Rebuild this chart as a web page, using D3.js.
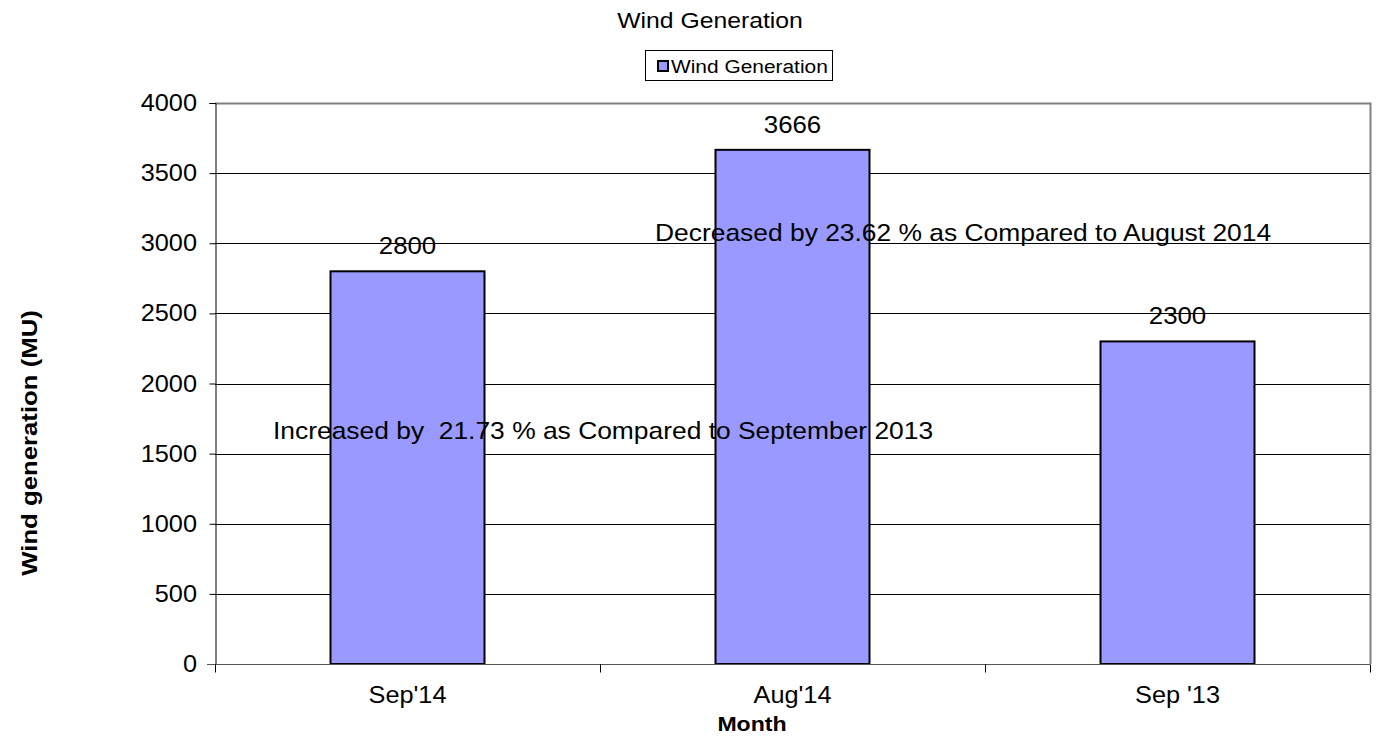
<!DOCTYPE html>
<html>
<head>
<meta charset="utf-8">
<script src="https://cdnjs.cloudflare.com/ajax/libs/d3/7.8.5/d3.min.js"></script>
<style>
  body { margin: 0; background: #fff; }
  text { font-family: "Liberation Sans", Arial, sans-serif; fill: #000; }
</style>
</head>
<body>
<svg width="1377" height="740"></svg>
<script>
// data
var months = ["Sep'14", "Aug'14", "Sep '13"];
var generation = [2800, 3666, 2300];
var yTicks = [0, 500, 1000, 1500, 2000, 2500, 3000, 3500, 4000];
var noteTexts = [
  "Decreased by 23.62 % as Compared to August 2014",
  "Increased by  21.73 % as Compared to September 2013"
];
var noteValues = [3020, 1620];

var svg = d3.select("svg"),
    plotL = 215, plotR = 1370, plotT = 103, plotB = 664;

var x = d3.scaleBand().domain(months).range([plotL, plotR]);
var y = d3.scaleLinear().domain([0, 4000]).range([plotB, plotT]);
var barW = x.bandwidth() * 0.4;

// text helper: slightly wide lettering like the original
function label(g, tx, ty, str, size, anchor, extra, sx) {
  return g.append("text")
    .attr("transform", "translate(" + tx + "," + ty + ")" + (extra || "") + " scale(" + (sx || 1.1) + ",1)")
    .attr("text-anchor", anchor || "start")
    .style("font-size", size + "px")
    .style("white-space", "pre")
    .text(str);
}

// title
label(svg, 710, 28, "Wind Generation", 22.5, "middle");

// legend
svg.append("rect").attr("x", 645.5).attr("y", 50.5).attr("width", 187).attr("height", 30)
  .attr("fill", "#fff").attr("stroke", "#000").attr("stroke-width", 1);
svg.append("rect").attr("x", 658).attr("y", 61).attr("width", 10).attr("height", 10)
  .attr("fill", "#9999ff").attr("stroke", "#000").attr("stroke-width", 2);
label(svg, 671, 73, "Wind Generation", 19, "start");

// gridlines
svg.append("g").selectAll("line").data(yTicks.slice(1, -1)).enter().append("line")
  .attr("x1", plotL).attr("x2", plotR)
  .attr("y1", function(d) { return Math.round(y(d)) + 0.5; })
  .attr("y2", function(d) { return Math.round(y(d)) + 0.5; })
  .attr("stroke", "#000").attr("stroke-width", 1);

// plot border top/right
svg.append("path")
  .attr("d", "M" + plotL + "," + (plotT + 0.5) + "H" + (plotR + 0.5) + "V" + plotB)
  .attr("fill", "none").attr("stroke", "#808080").attr("stroke-width", 2);

// bars
svg.append("g").selectAll("rect").data(generation).enter().append("rect")
  .attr("x", function(d, i) { return x(months[i]) + (x.bandwidth() - barW) / 2; })
  .attr("y", function(d) { return y(d); })
  .attr("width", barW)
  .attr("height", function(d) { return y(0) - y(d); })
  .attr("fill", "#9999ff").attr("stroke", "#000").attr("stroke-width", 2);

// value labels
generation.forEach(function(d, i) {
  label(svg, x(months[i]) + x.bandwidth() / 2, y(d) - 17, String(d), 23.5, "middle");
});

// y axis
var yAxis = d3.axisLeft(y).tickValues(yTicks).tickSize(6).tickFormat("");
var ya = svg.append("g").attr("transform", "translate(" + (plotL + 0.5) + ",0)").call(yAxis);
ya.select(".domain").attr("stroke", "#000");
ya.selectAll(".tick line").attr("stroke", "#000");
yTicks.forEach(function(t) {
  label(svg, 197, y(t) + 8, String(t), 23, "end");
});

// x axis
var xa = svg.append("g").attr("transform", "translate(0," + (plotB + 0.5) + ")");
xa.append("line").attr("x1", plotL - 8).attr("x2", plotR).attr("stroke", "#555");
xa.selectAll(".sep").data(d3.range(months.length + 1)).enter().append("line")
  .attr("x1", function(i) { return Math.round(plotL + i * x.bandwidth()) + 0.5; })
  .attr("x2", function(i) { return Math.round(plotL + i * x.bandwidth()) + 0.5; })
  .attr("y1", 0).attr("y2", 8).attr("stroke", "#000");
months.forEach(function(m) {
  label(svg, x(m) + x.bandwidth() / 2, 703, m, 23, "middle");
});

// annotations
label(svg, 655, y(noteValues[0]) + 1, noteTexts[0], 24, "start");
label(svg, 273, y(noteValues[1]) + 2, noteTexts[1], 24, "start");

// axis titles
label(svg, 752, 731, "Month", 21, "middle").style("font-weight", "bold");
label(svg, 37, 443, "Wind generation (MU)", 22, "middle", " rotate(-90)", 1.17)
  .style("font-weight", "bold");
</script>
</body>
</html>
